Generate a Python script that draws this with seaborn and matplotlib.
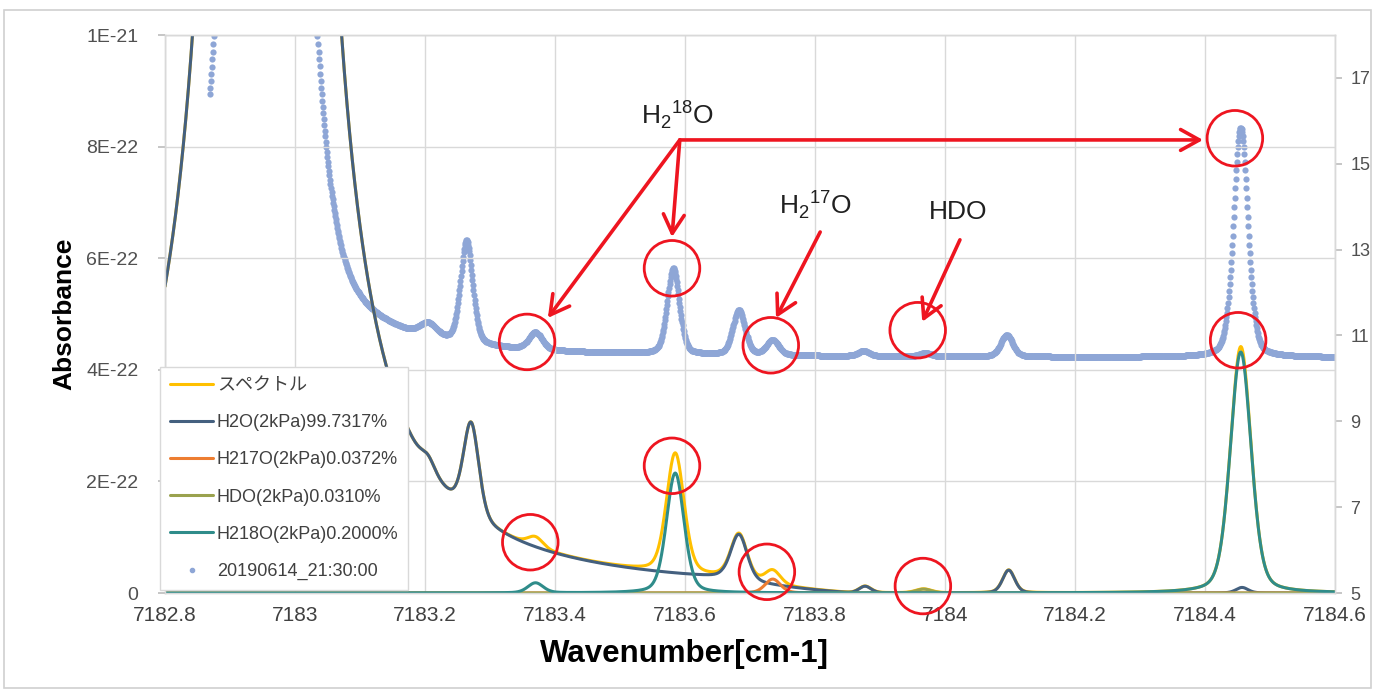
import numpy as np
import pandas as pd
import matplotlib
matplotlib.use("Agg")
import matplotlib.pyplot as plt
from matplotlib.lines import Line2D
from matplotlib.patches import Rectangle
import seaborn as sns

# ---------------------------------------------------------------- data
X_MIN, X_MAX = 7182.8, 7184.6
x_ticks = [7182.8, 7183.0, 7183.2, 7183.4, 7183.6, 7183.8, 7184.0, 7184.2, 7184.4, 7184.6]
x_tick_labels = ["7182.8", "7183", "7183.2", "7183.4", "7183.6", "7183.8",
                 "7184", "7184.2", "7184.4", "7184.6"]
y_ticks = [0, 2e-22, 4e-22, 6e-22, 8e-22, 1e-21]
y_tick_labels = ["0", "2E-22", "4E-22", "6E-22", "8E-22", "1E-21"]
y2_ticks = [5, 7, 9, 11, 13, 15, 17]

# simulated line lists: centre [cm-1], peak absorbance, half width [cm-1]
h2o_center = [7182.957, 7183.205, 7183.271, 7183.683, 7183.877, 7184.098, 7184.457]
h2o_peak = [5.2e-20, 2.0e-23, 1.65e-22, 8.2e-23, 1.2e-23, 4.1e-23, 1.0e-23]
h2o_hwhm = [0.030, 0.012, 0.014, 0.015, 0.011, 0.011, 0.011]

h217o_center = [7183.735]
h217o_peak = [2.5e-23]
h217o_hwhm = [0.014]

hdo_center = [7183.967]
hdo_peak = [7.0e-24]
hdo_hwhm = [0.014]

h218o_center = [7183.370, 7183.585, 7184.455]
h218o_peak = [1.8e-23, 2.15e-22, 4.32e-22]
h218o_hwhm = [0.014, 0.016, 0.019]

SIM_ETA = 0.3          # Lorentzian fraction of the simulated profiles
WING_CUT = 0.9         # line wings are dropped beyond this distance [cm-1]
WING_TAPER = 0.2

# measured spectrum 20190614_21:30:00 (secondary axis)
meas_start = 7182.869
meas_baseline = 10.48
meas_center = [7182.955, 7183.205, 7183.264, 7183.370, 7183.582, 7183.683,
               7183.735, 7183.875, 7183.970, 7184.095, 7184.455]
meas_peak = [35.0, 0.30, 2.40, 0.40, 2.00, 1.05, 0.35, 0.12, 0.08, 0.50, 5.35]
meas_hwhm = [0.050, 0.015, 0.011, 0.012, 0.011, 0.011, 0.011, 0.010, 0.010, 0.011, 0.013]
meas_eta = [0.377, 0.3, 0.3, 0.3, 0.3, 0.3, 0.3, 0.3, 0.3, 0.3, 0.3]

series_labels = ["スペクトル", "H2O(2kPa)99.7317%", "H217O(2kPa)0.0372%",
                 "HDO(2kPa)0.0310%", "H218O(2kPa)0.2000%", "20190614_21:30:00"]
series_colors = ["#FFC000", "#44607F", "#ED7D31", "#9AA24E", "#2F8C8A", "#8EA6D6"]

# callouts (data coordinates of the primary axis)
circle_x = [7183.357, 7183.580, 7183.732, 7183.958, 7184.446,
            7183.362, 7183.580, 7183.726, 7183.966, 7184.451]
circle_y = [4.50e-22, 5.82e-22, 4.44e-22, 4.71e-22, 8.15e-22,
            0.91e-22, 2.28e-22, 0.38e-22, 0.125e-22, 4.53e-22]
hub = (7183.592, 8.12e-22)
hub_targets = [(7184.397, 8.12e-22), (7183.580, 6.38e-22), (7183.389, 4.93e-22)]
side_arrows = [((7183.808, 6.47e-22), (7183.740, 4.93e-22)),
               ((7184.023, 6.33e-22), (7183.965, 4.86e-22))]
label_text = [r"H$_\mathregular{2}$$^\mathregular{18}$O",
              r"H$_\mathregular{2}$$^\mathregular{17}$O", "HDO"]
label_pos = [(7183.589, 8.57e-22), (7183.8015, 6.95e-22), (7184.020, 6.83e-22)]


# ---------------------------------------------------------------- profiles
def pseudo_voigt(x, center, peak, hwhm, eta):
    u = (x - center) / hwhm
    return peak * (eta / (1.0 + u ** 2) + (1.0 - eta) * np.exp(-np.log(2) * u ** 2))


def simulate(x, centers, peaks, widths):
    total = np.zeros_like(x)
    for c, p, w in zip(centers, peaks, widths):
        taper = np.clip((WING_CUT - np.abs(x - c)) / WING_TAPER, 0.0, 1.0)
        total += pseudo_voigt(x, c, p, w, SIM_ETA) * taper
    return total


wn = np.round(np.arange(X_MIN, X_MAX + 1e-9, 0.001), 4)
sim = pd.DataFrame({"wn": wn})
sim["H2O"] = simulate(wn, h2o_center, h2o_peak, h2o_hwhm)
sim["H217O"] = simulate(wn, h217o_center, h217o_peak, h217o_hwhm)
sim["HDO"] = simulate(wn, hdo_center, hdo_peak, hdo_hwhm)
sim["H218O"] = simulate(wn, h218o_center, h218o_peak, h218o_hwhm)
sim["total"] = sim[["H2O", "H217O", "HDO", "H218O"]].sum(axis=1)

wn_meas = np.round(np.arange(meas_start, X_MAX + 1e-9, 0.0008), 4)
meas_val = np.full_like(wn_meas, meas_baseline)
for c, p, w, e in zip(meas_center, meas_peak, meas_hwhm, meas_eta):
    meas_val += pseudo_voigt(wn_meas, c, p, w, e)
meas = pd.DataFrame({"wn": wn_meas, "signal": meas_val})

# ---------------------------------------------------------------- figure
sns.set_theme(style="white")
plt.rcParams["font.family"] = ["Liberation Sans", "Noto Sans CJK JP", "DejaVu Sans"]
plt.rcParams["mathtext.fontset"] = "custom"
plt.rcParams["mathtext.rm"] = "Liberation Sans"

fig = plt.figure(figsize=(13.75, 6.91), dpi=100)
ax = fig.add_axes([0.12, 0.1418, 0.8509, 0.8075])
ax2 = ax.twinx()
ax.set_zorder(ax2.get_zorder() + 1)
ax.patch.set_visible(False)

# measured points on the secondary axis
sns.scatterplot(data=meas, x="wn", y="signal", ax=ax2, color=series_colors[5],
                s=20, linewidth=0, legend=False)

# simulated spectra on the primary axis
for col, color in zip(["total", "H2O", "H217O", "HDO", "H218O"], series_colors[:5]):
    sns.lineplot(data=sim, x="wn", y=col, ax=ax, color=color, lw=2.2,
                 estimator=None, sort=False, legend=False)

# axes
ax.set_xlim(X_MIN, X_MAX)
ax.set_ylim(0, 1e-21)
ax2.set_ylim(5, 18)
ax.set_xticks(x_ticks)
ax.set_xticklabels(x_tick_labels)
ax.set_yticks(y_ticks)
ax.set_yticklabels(y_tick_labels)
ax2.set_yticks(y2_ticks)
ax2.set_yticklabels([str(v) for v in y2_ticks])

ax.grid(True, color="#D9D9D9", lw=1.0)
for a in (ax, ax2):
    for s in a.spines.values():
        s.set_color("#D9D9D9")
        s.set_linewidth(1.0)
ax.tick_params(axis="y", which="both", left=True, length=5, color="#BFBFBF",
               labelsize=14, labelcolor="#505050", pad=14)
ax.tick_params(axis="x", which="both", bottom=False, labelsize=15,
               labelcolor="#404040", pad=3)
ax2.tick_params(axis="y", which="both", right=True, length=5, color="#BFBFBF",
                labelsize=13, labelcolor="#505050", pad=6)
ax2.set_ylabel("")
ax2.set_xlabel("")

ax.set_xlabel("Wavenumber[cm-1]", fontsize=22.5, fontweight="bold", color="#000000")
ax.set_ylabel("Absorbance", fontsize=19, fontweight="bold", color="#000000")
ax.xaxis.set_label_coords(0.444, -0.083)
ax.yaxis.set_label_coords(-0.076, 0.5)

# legend
handles = [Line2D([], [], color=c, lw=2.2) for c in series_colors[:5]]
handles.append(Line2D([], [], color=series_colors[5], marker="o", ls="", ms=3))
leg = ax.legend(handles, series_labels, loc="lower left",
                bbox_to_anchor=(0.1164, 0.146), bbox_transform=fig.transFigure,
                fontsize=13, labelspacing=1.12, handlelength=2.4,
                handletextpad=0.2, borderpad=0.55, borderaxespad=0,
                frameon=True, fancybox=False, framealpha=1.0,
                edgecolor="#D9D9D9", labelcolor="#404040")
leg.get_frame().set_linewidth(1.0)
leg.set_zorder(20)

# callouts
red = "#EE1520"
ax.scatter(circle_x, circle_y, s=1600, facecolors="none", edgecolors=red,
           linewidths=2.0, zorder=30, clip_on=False)
arrow_kw = dict(arrowstyle="->,head_length=0.9,head_width=0.5", color=red,
                lw=2.6, mutation_scale=15, shrinkA=0, shrinkB=0)
for tgt in hub_targets:
    ax.annotate("", xy=tgt, xytext=hub, arrowprops=arrow_kw, zorder=31)
for start, tgt in side_arrows:
    ax.annotate("", xy=tgt, xytext=start, arrowprops=arrow_kw, zorder=31)
for txt, pos in zip(label_text, label_pos):
    ax.text(pos[0], pos[1], txt, fontsize=19, color="#202020",
            ha="center", va="center", zorder=32)

# outer chart border
fig.patches.append(Rectangle((0.003, 0.005), 0.994, 0.981, transform=fig.transFigure,
                             fill=False, edgecolor="#D0D0D0", lw=1.2))

fig.savefig("out.png", dpi=100)
